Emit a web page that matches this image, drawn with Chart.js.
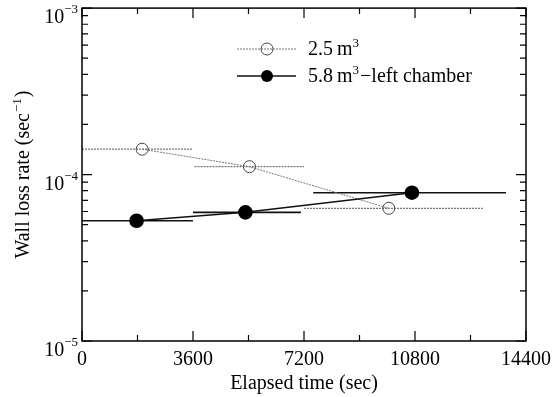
<!DOCTYPE html>
<html>
<head>
<meta charset="utf-8">
<script src="https://cdn.jsdelivr.net/npm/chart.js@4/dist/chart.umd.min.js"></script>
<style>
  html, body { margin: 0; padding: 0; background: #fff; }
  #wrap { width: 552px; height: 397px; position: relative; }
</style>
</head>
<body>
<div id="wrap"><canvas id="chart"></canvas></div>
<script>
// 2.5 m3 chamber (open circles, dotted)
const timeSmall = [1950, 5430, 9950];
const rateSmall = [1.42e-4, 1.115e-4, 6.27e-5];
const startSmall = [0, 3650, 7200];
const endSmall = [3600, 7200, 13000];

// 5.8 m3 left chamber (filled circles, solid)
const timeLarge = [1770, 5300, 10700];
const rateLarge = [5.28e-5, 5.93e-5, 7.78e-5];
const startLarge = [0, 3600, 7500];
const endLarge = [3600, 7100, 13750];

const xTicks = [0, 3600, 7200, 10800, 14400];
const xMinorTicks = [1800, 5400, 9000, 12600];
const yExponents = [-3, -4, -5];

const serif = '"Liberation Serif", "Times New Roman", serif';

function errorBars(starts, ends, rates, color, width, dash) {
  return rates.map((r, i) => ({
    data: [{ x: starts[i], y: r }, { x: ends[i], y: r }],
    borderColor: color,
    borderWidth: width,
    borderDash: dash,
    pointRadius: 0,
    showLine: true,
    order: 3
  }));
}

const datasets = [
  ...errorBars(startSmall, endSmall, rateSmall, '#777', 1.3, [2, 1]),
  ...errorBars(startLarge, endLarge, rateLarge, '#111', 1.6, []),
  {
    label: '2.5 m3',
    data: timeSmall.map((t, i) => ({ x: t, y: rateSmall[i] })),
    borderColor: '#777',
    borderWidth: 1,
    borderDash: [2, 1],
    showLine: true,
    pointRadius: 6,
    pointBorderColor: '#444',
    pointBorderWidth: 1,
    pointBackgroundColor: 'rgba(0,0,0,0)',
    order: 1
  },
  {
    label: '5.8 m3-left chamber',
    data: timeLarge.map((t, i) => ({ x: t, y: rateLarge[i] })),
    borderColor: '#111',
    borderWidth: 1.6,
    showLine: true,
    pointRadius: 6.5,
    pointBorderColor: '#000',
    pointBackgroundColor: '#000',
    order: 0
  }
];

// draws the frame, inward ticks, tick labels, titles and legend
const framePlugin = {
  id: 'frame',
  afterDraw(chart) {
    const ctx = chart.ctx;
    const a = chart.chartArea;
    const xs = chart.scales.x;
    const ys = chart.scales.y;
    ctx.save();
    ctx.strokeStyle = '#000';
    ctx.fillStyle = '#000';
    ctx.lineWidth = 1.5;
    ctx.strokeRect(a.left, a.top, a.right - a.left, a.bottom - a.top);

    ctx.lineWidth = 1.2;
    ctx.beginPath();
    const xTick = (v, len) => {
      const px = xs.getPixelForValue(v);
      ctx.moveTo(px, a.bottom); ctx.lineTo(px, a.bottom - len);
      ctx.moveTo(px, a.top); ctx.lineTo(px, a.top + len);
    };
    xTicks.forEach(v => xTick(v, 10));
    xMinorTicks.forEach(v => xTick(v, 6));
    const yTick = (v, len) => {
      const py = ys.getPixelForValue(v);
      ctx.moveTo(a.left, py); ctx.lineTo(a.left + len, py);
      ctx.moveTo(a.right, py); ctx.lineTo(a.right - len, py);
    };
    yExponents.forEach(e => {
      yTick(Math.pow(10, e), 10);
      if (e > -5) {
        for (let m = 2; m <= 9; m++) yTick(m * Math.pow(10, e - 1), 6);
      }
    });
    ctx.stroke();

    // x tick labels
    ctx.font = '20px ' + serif;
    ctx.textAlign = 'center';
    ctx.textBaseline = 'alphabetic';
    xTicks.forEach(v => ctx.fillText(String(v), xs.getPixelForValue(v), 365));

    // y tick labels 10^e
    yExponents.forEach(e => {
      const py = ys.getPixelForValue(Math.pow(10, e));
      const sup = '\u2212' + Math.abs(e);
      ctx.font = '13px ' + serif;
      ctx.textAlign = 'right';
      ctx.fillText(sup, 78, py + 5);
      const sw = ctx.measureText(sup).width;
      ctx.font = '20px ' + serif;
      ctx.fillText('10', 78 - sw, py + 15);
    });

    // x title
    ctx.font = '20px ' + serif;
    ctx.textAlign = 'center';
    ctx.fillText('Elapsed time (sec)', (a.left + a.right) / 2, 389);

    // y title with superscript
    ctx.save();
    ctx.translate(29, (a.top + a.bottom) / 2);
    ctx.rotate(-Math.PI / 2);
    const main = 'Wall loss rate (sec';
    const supT = '\u22121';
    ctx.font = '20px ' + serif;
    const w1 = ctx.measureText(main).width;
    const w3 = ctx.measureText(')').width;
    ctx.font = '13px ' + serif;
    const w2 = ctx.measureText(supT).width;
    let x0 = -(w1 + w2 + w3 + 2) / 2;
    ctx.textAlign = 'left';
    ctx.font = '20px ' + serif;
    ctx.fillText(main, x0, 0);
    ctx.font = '13px ' + serif;
    ctx.fillText(supT, x0 + w1 + 1, -8);
    ctx.font = '20px ' + serif;
    ctx.fillText(')', x0 + w1 + w2 + 2, 0);
    ctx.restore();

    // legend
    const rows = [
      { y: 49, color: '#777', dash: [2, 1], lw: 1, filled: false, pre: '2.5\u2009m', post: '' },
      { y: 76, color: '#111', dash: [], lw: 1.6, filled: true, pre: '5.8\u2009m', post: '\u2212left chamber' }
    ];
    rows.forEach(r => {
      ctx.strokeStyle = r.color;
      ctx.lineWidth = r.lw;
      ctx.setLineDash(r.dash);
      ctx.beginPath();
      ctx.moveTo(237, r.y); ctx.lineTo(296, r.y);
      ctx.stroke();
      ctx.setLineDash([]);
      ctx.beginPath();
      ctx.arc(267, r.y, 6, 0, Math.PI * 2);
      if (r.filled) { ctx.fillStyle = '#000'; ctx.fill(); }
      else { ctx.strokeStyle = '#444'; ctx.lineWidth = 1; ctx.stroke(); }
      ctx.fillStyle = '#000';
      ctx.textAlign = 'left';
      ctx.font = '20px ' + serif;
      const tx = 308;
      ctx.fillText(r.pre, tx, r.y + 6);
      const pw = ctx.measureText(r.pre).width;
      ctx.font = '13px ' + serif;
      ctx.fillText('3', tx + pw, r.y - 2);
      const sw = ctx.measureText('3').width;
      ctx.font = '20px ' + serif;
      if (r.post) ctx.fillText(r.post, tx + pw + sw + 1, r.y + 6);
    });
    ctx.restore();
  }
};

new Chart(document.getElementById('chart'), {
  type: 'scatter',
  data: { datasets },
  options: {
    responsive: true,
    maintainAspectRatio: false,
    animation: false,
    layout: { padding: { left: 82, right: 26, top: 8, bottom: 56 } },
    plugins: { legend: { display: false }, tooltip: { enabled: false } },
    scales: {
      x: { type: 'linear', min: 0, max: 14400, display: false },
      y: { type: 'logarithmic', min: 1e-5, max: 1e-3, display: false }
    }
  },
  plugins: [framePlugin]
});
</script>
</body>
</html>
